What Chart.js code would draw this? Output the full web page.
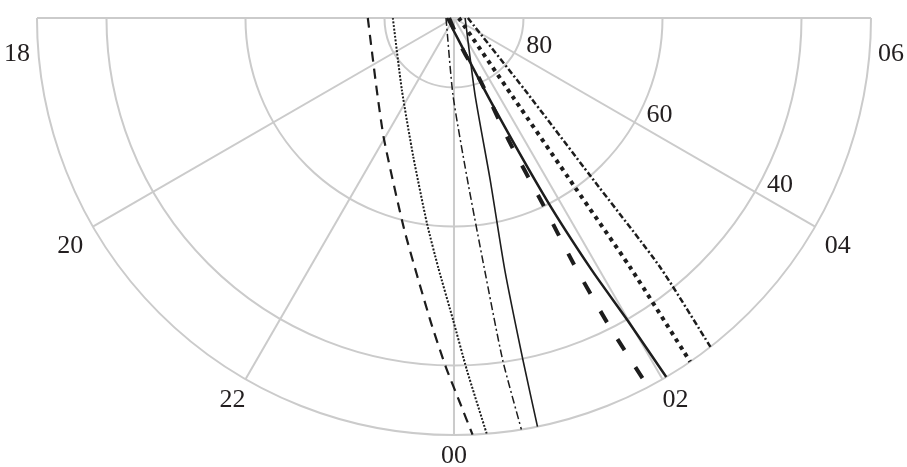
<!DOCTYPE html>
<html>
<head>
<meta charset="utf-8">
<script src="https://cdn.jsdelivr.net/npm/chart.js@4.4.1/dist/chart.umd.min.js"></script>
<style>
  html, body { margin: 0; padding: 0; background: #ffffff; overflow: hidden; }
  #wrap { width: 907px; height: 467px; position: relative; }
</style>
</head>
<body>
<div id="wrap"><canvas id="sky"></canvas></div>
<script>
// Hour marks around the rim and labelled elevation rings (degrees)
const hourTicks = ['18', '20', '22', '00', '02', '04', '06'];
const elevationRings = [80, 60, 40];
const rimElevation = 30;

// Tracks across the sky: local hour and elevation (deg)
const track1Hour = [18.00, 20.87, 22.01, 23.12, 23.70, 23.91, 0.06, 0.17];
const track1Elev = [77.6, 74.8, 69.8, 58.7, 46.4, 39.8, 34.6, 30.0];

const track2Hour = [18.00, 21.61, 22.91, 23.50, 23.76, 23.99, 0.14, 0.30];
const track2Elev = [81.2, 77.2, 69.2, 60.2, 54.0, 46.5, 39.3, 30.0];

const track3Hour = [18.00, 23.95, 0.31, 0.46, 0.54, 0.62];
const track3Elev = [88.85, 78.9, 67.05, 53.8, 40.3, 30.0];

const track4Hour = [6.00, 1.02, 0.84, 0.76, 0.76, 0.77];
const track4Elev = [88.4, 78.5, 66.1, 53.0, 39.8, 30.0];

const track5Hour = [18.00, 1.05, 1.52, 1.61, 1.70, 1.73, 1.78, 1.85];
const track5Elev = [89.3, 85.2, 80.3, 70.3, 60.5, 50.8, 40.9, 30.0];

const track6Hour = [18.00, 1.58, 1.80, 1.91, 1.99, 2.04];
const track6Elev = [89.0, 77.1, 60.6, 48.7, 39.9, 30.0];

const track7Hour = [6.00, 2.45, 2.37, 2.35, 2.30];
const track7Elev = [89.3, 75.8, 60.1, 46.1, 30.0];

const track8Hour = [6.00, 2.97, 2.72, 2.64, 2.53];
const track8Elev = [88.0, 75.45, 59.8, 43.5, 30.0];

// Polar (hour, elevation) -> plane coordinates in zenith-distance degrees.
// 00 points down, 06 right, 18 left; zenith at the origin.
function polarToXY(hour, elev) {
  const z = 90 - elev;
  const t = (12 - hour) * Math.PI / 12;
  return { x: z * Math.sin(t), y: z * Math.cos(t) };
}

function trackPoints(hours, elevs) {
  return hours.map((h, i) => polarToXY(h, elevs[i]));
}

const ink = '#1d1d1d';
function trackDataset(label, hours, elevs, width, dash) {
  return {
    label,
    data: trackPoints(hours, elevs),
    showLine: true,
    borderColor: ink,
    borderWidth: width,
    borderDash: dash,
    borderCapStyle: 'butt',
    pointRadius: 0,
    pointHoverRadius: 0,
    tension: 0.2,
    fill: false
  };
}

const datasets = [
  trackDataset('track1', track1Hour, track1Elev, 2.2, [10, 7]),
  trackDataset('track2', track2Hour, track2Elev, 2, [2, 1.6]),
  trackDataset('track3', track3Hour, track3Elev, 1.5, [8, 3, 2, 3]),
  trackDataset('track4', track4Hour, track4Elev, 1.6, []),
  trackDataset('track5', track5Hour, track5Elev, 4, [13, 20]),
  trackDataset('track6', track6Hour, track6Elev, 2.5, []),
  trackDataset('track7', track7Hour, track7Elev, 4, [4, 4.6]),
  trackDataset('track8', track8Hour, track8Elev, 2.5, [6, 2.5, 2, 2.5])
];

const labelFont = '26px "Liberation Serif", "Times New Roman", serif';
const gridColor = '#cbcbcb';

// Half-disc sky grid: elevation rings and hour spokes, plus their labels
const polarGrid = {
  id: 'polarGrid',
  beforeDatasetsDraw(chart) {
    const { ctx, scales: { x, y } } = chart;
    const cx = x.getPixelForValue(0), cy = y.getPixelForValue(0);
    const toPx = (h, e) => {
      const p = polarToXY(h, e);
      return [x.getPixelForValue(p.x), y.getPixelForValue(p.y)];
    };
    ctx.save();
    ctx.strokeStyle = gridColor;
    ctx.lineWidth = 2;
    elevationRings.concat([rimElevation]).forEach(e => {
      const r = x.getPixelForValue(90 - e) - cx;
      ctx.beginPath();
      ctx.arc(cx, cy, r, 0, Math.PI);
      ctx.stroke();
    });
    hourTicks.forEach(h => {
      const [ex, ey] = toPx(parseFloat(h), rimElevation);
      ctx.beginPath();
      ctx.moveTo(cx, cy);
      ctx.lineTo(ex, ey);
      ctx.stroke();
    });
    ctx.restore();
  },
  afterDatasetsDraw(chart) {
    const { ctx, scales: { x, y } } = chart;
    const cx = x.getPixelForValue(0), cy = y.getPixelForValue(0);
    const R = x.getPixelForValue(90 - rimElevation) - cx;
    const toPx = (h, e) => {
      const p = polarToXY(h, e);
      return [x.getPixelForValue(p.x), y.getPixelForValue(p.y)];
    };
    ctx.save();
    ctx.fillStyle = '#231f20';
    ctx.font = labelFont;
    ctx.textAlign = 'center';
    ctx.textBaseline = 'middle';
    hourTicks.forEach(h => {
      const t = (12 - parseFloat(h)) * Math.PI / 12;
      const s = Math.sin(t), c = Math.cos(t);
      let lx, ly;
      if (Math.abs(s) > 0.99) {
        lx = cx + s * (R + 20);
        ly = cy + 36;
      } else {
        const d = R + 26;
        lx = cx + d * s;
        ly = cy - d * c + 10 * s * s - 5 * c * c;
      }
      ctx.fillText(h, lx, ly);
    });
    elevationRings.forEach(e => {
      const [px, py] = toPx(4, e);
      ctx.fillText(String(e), px + 25, py - 7);
    });
    ctx.restore();
  }
};

new Chart(document.getElementById('sky'), {
  type: 'scatter',
  data: { datasets },
  options: {
    responsive: true,
    maintainAspectRatio: false,
    animation: false,
    layout: { padding: 0 },
    plugins: { legend: { display: false }, tooltip: { enabled: false } },
    scales: {
      x: { type: 'linear', min: -65.32, max: 65.18, display: false },
      y: { type: 'linear', min: -64.60, max: 2.59, display: false }
    }
  },
  plugins: [polarGrid]
});
</script>
</body>
</html>
